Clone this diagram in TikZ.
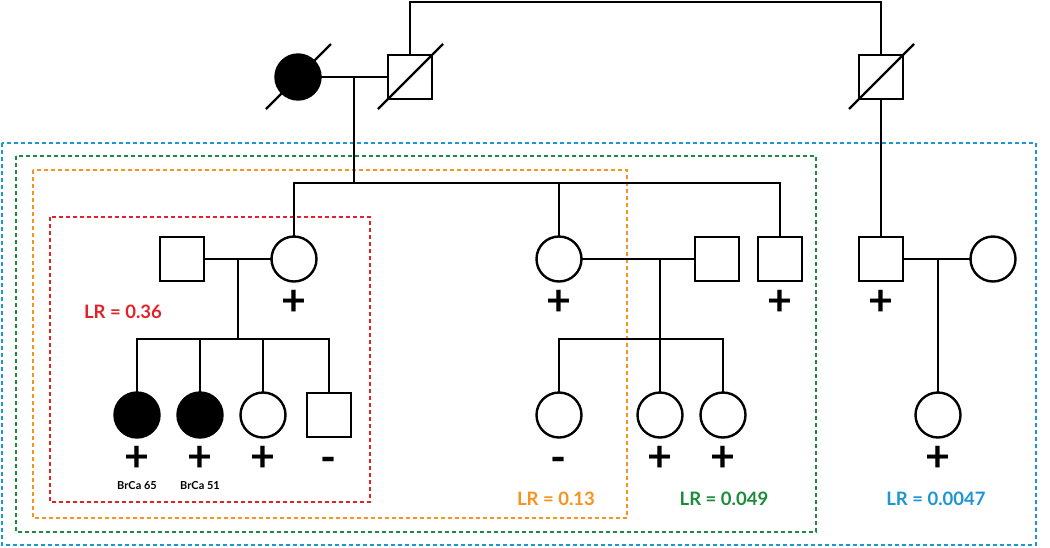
\documentclass[tikz,border=0pt]{standalone}
\usepackage{fontspec}
\setmainfont{Lato}
\usetikzlibrary{calc}
\definecolor{lrred}{HTML}{E2222A}
\definecolor{lrorange}{HTML}{F7931E}
\definecolor{lrgreen}{HTML}{1A8C3C}
\definecolor{lrblue}{HTML}{1C96D4}
\begin{document}
\begin{tikzpicture}[x=1pt,y=-1pt,
  every node/.style={inner sep=0pt,outer sep=0pt},
  male/.style={draw,line width=2.4pt,rectangle,minimum size=44pt},
  female/.style={draw,line width=2.4pt,circle,minimum size=45pt},
  affected/.style={fill=black},
  link/.style={line width=2.2pt},
  slash/.style={line width=2.4pt},
  box/.style={line width=2.4pt,dash pattern=on 4pt off 3pt},
  status/.style={font=\bfseries\fontsize{43}{43}\selectfont},
  note/.style={font=\bfseries\fontsize{11}{12}\selectfont},
  lr/.style={font=\bfseries\fontsize{18.5}{20}\selectfont}]
\useasboundingbox (0,0) rectangle (1050,547);
\fill[white] (0,0) rectangle (1050,547);

% dotted boxes
\draw[box,lrblue]   (2,143) rectangle (1036,545);
\draw[box,lrgreen]  (16,156) rectangle (816,532);
\draw[box,lrorange] (33,170) rectangle (627,518);
\draw[box,lrred]    (50,217) rectangle (370,502);

% generation I
\node[female,affected] (gm) at (298,77) {};
\node[male] (gf) at (410,77) {};
\node[male] (gu) at (881,77) {};
\draw[slash] ($(gm)+(-32,32)$) -- ($(gm)+(33,-33)$);
\draw[slash] ($(gf)+(-32,32)$) -- ($(gf)+(33,-33)$);
\draw[slash] ($(gu)+(-32,32)$) -- ($(gu)+(33,-33)$);

% generation II
\node[male]   (f2) at (182,259) {};
\node[female] (m2) at (294,259) {};
\node[female] (s2) at (559,259) {};
\node[male]   (h2) at (717,259) {};
\node[male]   (b2) at (780,259) {};
\node[male]   (c2) at (881,259) {};
\node[female] (w2) at (993,259) {};

% generation III
\node[female,affected] (k1) at (137,415) {};
\node[female,affected] (k2) at (200,415) {};
\node[female] (k3) at (263,415) {};
\node[male]   (k4) at (329,415) {};
\node[female] (k5) at (559,415) {};
\node[female] (k6) at (660,415) {};
\node[female] (k7) at (723,415) {};
\node[female] (k8) at (938,415) {};

% junction coordinates
\coordinate (gmj) at (354,77);
\coordinate (gsib) at (354,183);
\coordinate (top1) at (410,2);
\coordinate (top2) at (881,2);
\coordinate (fmj) at (238,259);
\coordinate (fsib) at (238,339);
\coordinate (shj) at (660,259);
\coordinate (cwj) at (938,259);

% connectors
\draw[link] (gm.east) -- (gf.west);
\draw[link] (gmj) -- (gsib);
\draw[link] (m2.north) |- (gsib) -| (b2.north);
\draw[link] (s2.north) -- (s2.north |- gsib);
\draw[link] (gf.north) -- (top1) -- (top2) -- (gu.north);
\draw[link] (gu.south) -- (c2.north);

\draw[link] (f2.east) -- (m2.west);
\draw[link] (fmj) -- (fsib);
\draw[link] (k1.north) |- (fsib) -| (k4.north);
\draw[link] (k2.north) -- (k2.north |- fsib);
\draw[link] (k3.north) -- (k3.north |- fsib);

\draw[link] (s2.east) -- (h2.west);
\draw[link] (shj) -- (k6.north);
\draw[link] (k5.north) |- (k6.north |- fsib) -| (k7.north);

\draw[link] (c2.east) -- (w2.west);
\draw[link] (cwj) -- (k8.north);

% status signs
\node[status] (p1) at (294,303) {+};
\node[status] (p2) at (559,303) {+};
\node[status] (p3) at (780,303) {+};
\node[status] (p4) at (881,303) {+};
\node[status] (q1) at (137,459) {+};
\node[status] (q2) at (200,459) {+};
\node[status] (q3) at (263,459) {+};
\node[status] (q4) at (329,465) {-};
\node[status] (q5) at (559,465) {-};
\node[status] (q6) at (660,459) {+};
\node[status] (q7) at (723,459) {+};
\node[status] (q8) at (938,459) {+};

\node[note] (n1) at (137,486) {BrCa 65};
\node[note] (n2) at (200,486) {BrCa 51};

% LR labels
\node[lr,text=lrred]    (lr1) at (123,312) {LR = 0.36};
\node[lr,text=lrorange] (lr2) at (556,499) {LR = 0.13};
\node[lr,text=lrgreen]  (lr3) at (724,499) {LR = 0.049};
\node[lr,text=lrblue]   (lr4) at (936,499) {LR = 0.0047};
\end{tikzpicture}
\end{document}
